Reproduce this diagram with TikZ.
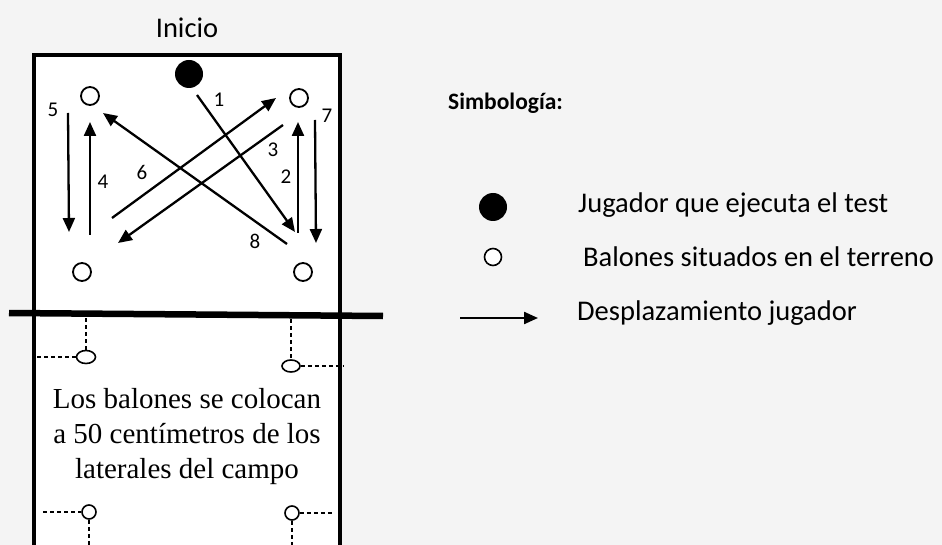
\documentclass[tikz,border=0pt]{standalone}
\usepackage{fontspec}
\setmainfont{Carlito}
\newfontfamily\notefont{Liberation Serif}
\usepackage{tikz}
\usetikzlibrary{arrows.meta, positioning, shapes.geometric}
\definecolor{mainBlack}{gray}{0.0}
\definecolor{paperGray}{gray}{0.957}

\begin{document}
\begin{tikzpicture}[x=1pt, y=-1pt, >={Triangle[length=14pt, width=12pt]},
    ball/.style={circle, draw=mainBlack, line width=1.8pt, fill=white, inner sep=0pt, minimum size=18pt},
    player/.style={circle, fill=mainBlack, inner sep=0pt, minimum size=28pt},
    smallball/.style={ellipse, draw=mainBlack, line width=1.6pt, fill=white, inner sep=0pt},
    move/.style={->, line width=2.3pt, mainBlack},
    guide/.style={line width=1.5pt, dash pattern=on 4pt off 3pt, mainBlack},
    num/.style={font=\fontsize{21}{21}\selectfont, inner sep=0pt},
    legend/.style={anchor=west, inner sep=0pt, font=\fontsize{28.5}{30}\selectfont}]
    \useasboundingbox (0,0) rectangle (942,545);
    \fill[paperGray] (0,0) rectangle (942,545);

    % Court
    \fill[white] (34,55) rectangle (340,560);
    \draw[line width=4.5pt, mainBlack] (34,560) -- (34,55) -- (340,55) -- (340,560);
    \draw[line width=6.5pt, mainBlack] (9,313) -- (383,316);
    \node[font=\fontsize{28.5}{30}\selectfont] (inicio) at (187,28) {Inicio};

    % Player and balls
    \node[player] (start) at (189,74) {};
    \node[ball] (tl) at (90,96) {};
    \node[ball] (tr) at (299,98) {};
    \node[ball] (bl) at (82,272) {};
    \node[ball] (br) at (303,272) {};

    % Route
    \coordinate (a1) at (197,95);  \coordinate (b1) at (295,232);
    \coordinate (a2) at (298,233); \coordinate (b2) at (298,122);
    \coordinate (a3) at (283,125); \coordinate (b3) at (118,243);
    \coordinate (a4) at (90,235);  \coordinate (b4) at (90,122);
    \coordinate (a5) at (68,113);  \coordinate (b5) at (69,232);
    \coordinate (a6) at (112,218); \coordinate (b6) at (276,98);
    \coordinate (a7) at (315,120); \coordinate (b7) at (316,243);
    \coordinate (a8) at (287,244); \coordinate (b8) at (103,113);
    \foreach \i in {1,...,8}
        \draw[move] (a\i) -- (b\i);
    \foreach \i/\p in {1/{219,100}, 2/{286,177}, 3/{273,150}, 4/{103,182},
                       5/{53,110}, 6/{142,172}, 7/{327,116}, 8/{255,241}}
        \node[num] (n\i) at (\p) {\i};

    % Balls beside the lines
    \node[smallball, minimum width=19pt, minimum height=13pt] (ul) at (86,357) {};
    \node[smallball, minimum width=18pt, minimum height=12pt] (ur) at (291,366) {};
    \node[smallball, minimum width=14pt, minimum height=14pt] (ll) at (89,512) {};
    \node[smallball, minimum width=14pt, minimum height=14pt] (lr) at (292,513) {};
    \coordinate (g1) at (86,318);  \coordinate (h1) at (37,357);
    \coordinate (g2) at (291,319); \coordinate (h2) at (343,366);
    \coordinate (g3) at (89,560);  \coordinate (h3) at (43,512);
    \coordinate (g4) at (292,560); \coordinate (h4) at (333,513);
    \draw[guide] (g1) -- (ul.north);
    \draw[guide] (h1) -- (ul.west);
    \draw[guide] (g2) -- (ur.north);
    \draw[guide] (ur.east) -- (h2);
    \draw[guide] (h3) -- (ll.west);
    \draw[guide] (ll.south) -- (g3);
    \draw[guide] (lr.east) -- (h4);
    \draw[guide] (lr.south) -- (g4);
    \node[align=center, font=\notefont\fontsize{29}{35}\selectfont] (note) at (187,437)
        {Los balones se colocan\\a 50 centímetros de los\\laterales del campo};

    % Legend
    \node[anchor=west, inner sep=0pt, font=\bfseries\fontsize{23.5}{25}\selectfont] (simb) at (448,103) {Simbología:};
    \node[player] (kdot) at (493,207) {};
    \node[legend] (kdottext) at (578,205) {Jugador que ejecuta el test};
    \node[ball, line width=1.6pt, minimum size=17pt] (kball) at (493,257) {};
    \node[legend] (kballtext) at (583,257) {Balones situados en el terreno};
    \coordinate (k1) at (460,318);
    \coordinate (k2) at (538,318);
    \draw[move] (k1) -- (k2);
    \node[legend] (kmovetext) at (577,313) {Desplazamiento jugador};
\end{tikzpicture}
\end{document}
